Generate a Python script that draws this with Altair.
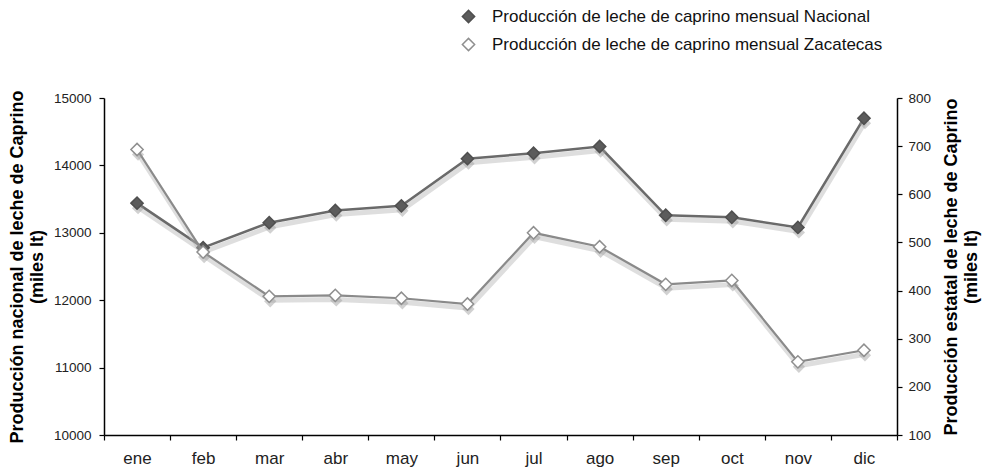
import altair as alt
import pandas as pd

meses = ["ene", "feb", "mar", "abr", "may", "jun", "jul", "ago", "sep", "oct", "nov", "dic"]
nacional = [13440, 12780, 13150, 13330, 13400, 14100, 14180, 14280, 13260, 13230, 13080, 14700]
zacatecas = [693, 480, 388, 390, 384, 372, 520, 491, 413, 421, 252, 276]
serie_nac = "Producción de leche de caprino mensual Nacional"
serie_zac = "Producción de leche de caprino mensual Zacatecas"

rows = []
for m, n, z in zip(meses, nacional, zacatecas):
    rows.append({"mes": m, "serie": serie_nac, "valor": n})
    rows.append({"mes": m, "serie": serie_zac, "valor": z})
df = pd.DataFrame(rows)

FONT = "Liberation Sans"

x_enc = alt.X(
    "mes:N", sort=meses, bandPosition=0.5,
    scale=alt.Scale(type="band", paddingInner=0, paddingOuter=0),
    axis=alt.Axis(title=None, tickBand="extent", labelAngle=0, labelFontSize=17,
                  labelBaseline="alphabetic", labelPadding=23, tickSize=5, labelFont=FONT,
                  labelColor="#222222",
                  domainColor="#000000", tickColor="#000000", domainWidth=1.5, tickWidth=1.2),
)

y_nac = alt.Y(
    "valor:Q", scale=alt.Scale(domain=[10000, 15000], nice=False, zero=False),
    axis=alt.Axis(title=["Producción nacional de leche de Caprino", "(miles lt)"],
                  orient="left", values=[10000, 11000, 12000, 13000, 14000, 15000], format="d",
                  grid=False, labelFontSize=13.5, labelFont=FONT, labelColor="#222222",
                  labelPadding=8, tickSize=5, titleFont=FONT, titleFontSize=18,
                  titleFontWeight="bold", titleColor="#000000", titlePadding=7,
                  titleLineHeight=20,
                  domainColor="#000000", tickColor="#000000", domainWidth=1.5, tickWidth=1.2),
)

y_zac = alt.Y(
    "valor:Q", scale=alt.Scale(domain=[100, 800], nice=False, zero=False),
    axis=alt.Axis(title=["Producción estatal de leche de Caprino", "(miles lt)"],
                  orient="right", values=[100, 200, 300, 400, 500, 600, 700, 800], format="d",
                  grid=False, labelFontSize=13.5, labelFont=FONT, labelColor="#222222",
                  labelPadding=6, tickSize=5, titleFont=FONT, titleFontSize=18,
                  titleFontWeight="bold", titleColor="#000000", titlePadding=10,
                  titleAngle=270, titleLineHeight=20,
                  domainColor="#000000", tickColor="#000000", domainWidth=1.5, tickWidth=1.2),
)

fill_scale = alt.Scale(domain=[serie_nac, serie_zac], range=["#5c5c5c", "#ffffff"])
stroke_scale = alt.Scale(domain=[serie_nac, serie_zac], range=["#4f4f4f", "#8f8f8f"])
legend = alt.Legend(title=None, orient="none", legendX=356, legendY=-90, symbolType="diamond",
                    symbolSize=150, symbolStrokeWidth=1.5, labelFont=FONT, labelFontSize=17,
                    labelColor="#111111", labelOffset=15, rowPadding=9, padding=0,
                    labelLimit=0)

base = alt.Chart(df)


def series_layer(name, y_enc, line_color, line_width):
    src = base.transform_filter(alt.datum.serie == name)
    shadow_line = src.mark_line(color="#b5b5b5", strokeWidth=5, opacity=0.45, yOffset=4, xOffset=1).encode(
        x=x_enc, y=y_enc)
    line = src.mark_line(color=line_color, strokeWidth=line_width).encode(x=x_enc, y=y_enc)
    shadow_pts = src.mark_point(shape="diamond", size=150, filled=True, color="#9a9a9a",
                                opacity=0.45, yOffset=5, xOffset=1).encode(x=x_enc, y=y_enc)
    pts = src.mark_point(shape="diamond", size=150, filled=False, strokeWidth=1.5, opacity=1).encode(
        x=x_enc, y=y_enc,
        fill=alt.Fill("serie:N", scale=fill_scale, legend=legend),
        stroke=alt.Stroke("serie:N", scale=stroke_scale, legend=legend),
    )
    return alt.layer(shadow_line, line, shadow_pts, pts)


nac_layer = series_layer(serie_nac, y_nac, "#6a6a6a", 2.5)
zac_layer = series_layer(serie_zac, y_zac, "#8a8a8a", 2.2)

chart = alt.layer(nac_layer, zac_layer).resolve_scale(y="independent").properties(
    width=793, height=337,
    autosize=alt.AutoSizeParams(type="none"),
    padding={"left": 96, "top": 90, "right": 85, "bottom": 32},
    background="#ffffff",
).configure_view(stroke=None)

chart.save("out.html", embed_options={"renderer": "svg", "actions": False})
